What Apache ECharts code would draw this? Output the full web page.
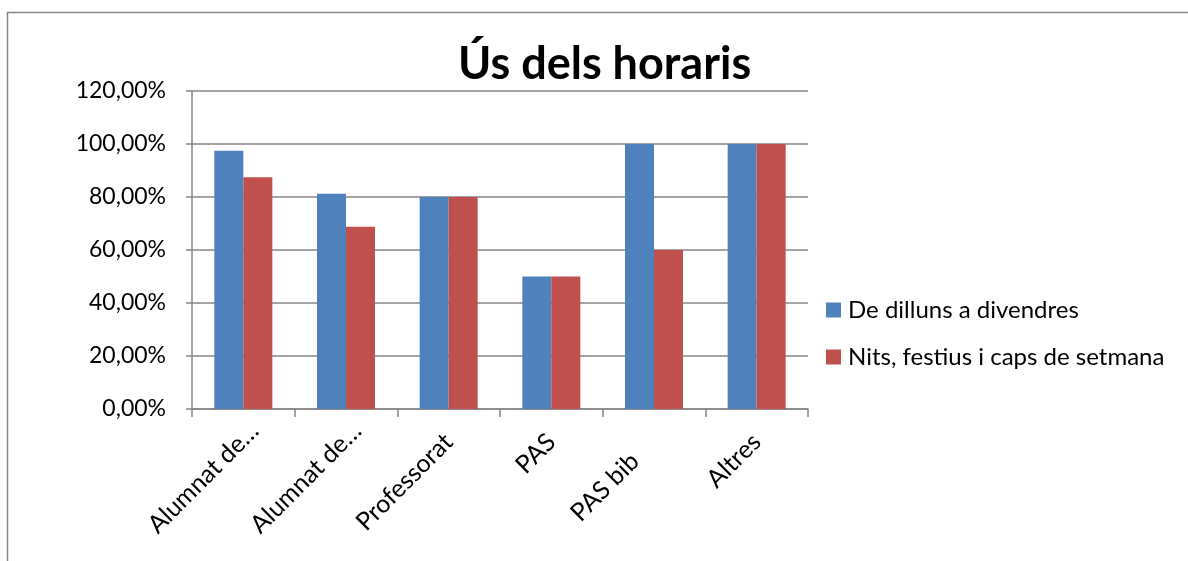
<!DOCTYPE html>
<html>
<head>
<meta charset="utf-8">
<script src="https://cdn.jsdelivr.net/npm/echarts@6/dist/echarts.min.js"></script>
<style>
  html, body { margin: 0; padding: 0; background: #fff; }
  #chart { width: 1188px; height: 561px; }
</style>
</head>
<body>
<div id="chart"></div>
<script>
var categories = ["Alumnat de…", "Alumnat de…", "Professorat", "PAS", "PAS bib", "Altres"];
var seriesNames = ["De dilluns a divendres", "Nits, festius i caps de setmana"];
var weekdays = [97.5, 81.25, 80, 50, 100, 100];
var nightsWeekends = [87.5, 68.75, 80, 50, 60, 100];

var fontFam = "Lato, 'Open Sans', sans-serif";

function pct(v){
  return v.toFixed(2).replace(".", ",") + "%";
}

// small nudges so the rotated labels sit like the original ones
var labelNudge = {
  "Alumnat de…": { align: "center", padding: [13, 113, 0, 0] },
  "PAS bib": { padding: [30, 27, 0, 0] }
};
var catData = categories.map(function(c){
  if (labelNudge[c]) return { value: c, textStyle: labelNudge[c] };
  return c;
});

var myChart = echarts.init(document.getElementById("chart"));

var option = {
  animation: false,
  title: {
    text: "Ús dels horaris",
    left: 453,
    top: 37,
    textStyle: { fontFamily: fontFam, fontSize: 45, fontWeight: "bold", color: "#000" }
  },
  graphic: [{
    type: "rect",
    shape: { x: 7.5, y: 12.5, width: 1400, height: 800 },
    style: { fill: "none", stroke: "#868686", lineWidth: 1.5 },
    silent: true
  }],
  legend: {
    orient: "vertical",
    left: 821,
    top: 293,
    itemWidth: 15,
    itemHeight: 15,
    itemGap: 23,
    icon: "rect",
    data: seriesNames,
    textStyle: { fontFamily: fontFam, fontSize: 24, color: "#000", padding: [0, 0, 0, 2] }
  },
  grid: { left: 192, top: 91, width: 616, height: 318 },
  xAxis: {
    type: "category",
    data: catData,
    axisLine: { lineStyle: { color: "#868686", width: 1.5 } },
    axisTick: { show: true, length: 8, lineStyle: { color: "#868686", width: 1.5 } },
    axisLabel: {
      rotate: 45, interval: 0, margin: 29,
      verticalAlign: "middle",
      fontFamily: fontFam, fontSize: 25, color: "#000"
    }
  },
  yAxis: {
    type: "value",
    min: 0, max: 120, interval: 20,
    axisLine: { show: true, lineStyle: { color: "#868686", width: 1.5 } },
    axisTick: { show: true, length: 6, lineStyle: { color: "#868686", width: 1.5 } },
    splitLine: { lineStyle: { color: "#868686", width: 1.5 } },
    axisLabel: {
      formatter: pct, margin: 26,
      fontFamily: fontFam, fontSize: 23, color: "#000"
    }
  },
  series: [{
    name: seriesNames[0],
    type: "bar",
    data: weekdays,
    barWidth: 29,
    barGap: "0%",
    itemStyle: { color: "#4F81BD" }
  }, {
    name: seriesNames[1],
    type: "bar",
    data: nightsWeekends,
    barWidth: 29,
    barGap: "0%",
    itemStyle: { color: "#C0504D" }
  }]
};

myChart.setOption(option);
</script>
</body>
</html>
